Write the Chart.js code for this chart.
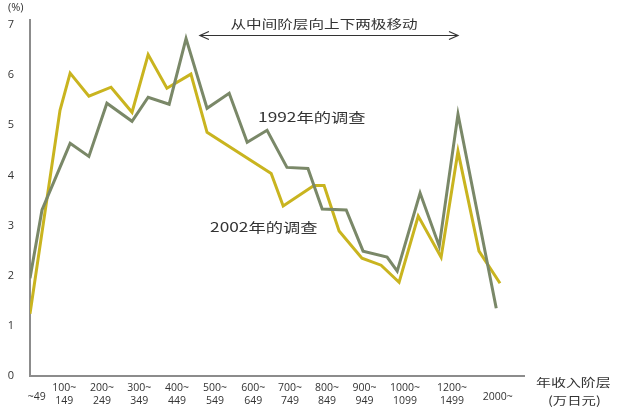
<!DOCTYPE html>
<html>
<head>
<meta charset="utf-8">
<script src="https://cdn.jsdelivr.net/npm/chart.js@4.4.1/dist/chart.umd.min.js"></script>
<style>
  html, body { margin: 0; padding: 0; background: #fff; }
</style>
</head>
<body>
<canvas id="myChart" width="618" height="408"></canvas>
<script>
// 年收入 (万日元), x 轴按收入线性排列, 1000 以上压缩
const x1992 = [0, 32, 107, 157, 205, 272, 315, 371, 416, 472, 531, 579, 632, 685, 741, 779, 843, 888, 952, 979, 1040, 1091, 1141, 1243];
const v1992 = [1.95, 3.31, 4.64, 4.38, 5.44, 5.08, 5.56, 5.42, 6.73, 5.34, 5.64, 4.66, 4.90, 4.16, 4.14, 3.33, 3.31, 2.49, 2.37, 2.09, 3.65, 2.59, 5.22, 1.35];

const x2002 = [0, 80, 107, 157, 216, 272, 315, 365, 429, 472, 643, 675, 757, 784, 824, 885, 936, 984, 1035, 1096, 1141, 1197, 1253];
const v2002 = [1.24, 5.30, 6.04, 5.58, 5.76, 5.26, 6.41, 5.74, 6.02, 4.86, 4.04, 3.39, 3.80, 3.80, 2.89, 2.35, 2.21, 1.87, 3.19, 2.37, 4.48, 2.49, 1.85];

const tickPos = [18, 91, 192, 291, 392, 493, 595, 693, 792, 892, 1000, 1125, 1247];
const tickLabels = [["~49"], ["100~", "149"], ["200~", "249"], ["300~", "349"], ["400~", "449"],
  ["500~", "549"], ["600~", "649"], ["700~", "749"], ["800~", "849"], ["900~", "949"],
  ["1000~", "1099"], ["1200~", "1499"], ["2000~"]];
const yTicks = [0, 1, 2, 3, 4, 5, 6, 7];

const GREEN = "#7a8868";
const YELLOW = "#c9b41f";
const TXT = "#333333";
const AXIS = "#8c8c8c";

// texto estirado horizontalmente como en la imagen original
function stretchText(ctx, text, x, y, align, sx) {
  ctx.save();
  ctx.translate(x, y);
  ctx.scale(sx, 1);
  ctx.textAlign = align;
  ctx.fillText(text, 0, 0);
  ctx.restore();
}

const labelsPlugin = {
  id: "labelsPlugin",
  afterDraw(chart) {
    const ctx = chart.ctx;
    const xs = chart.scales.x;
    const ys = chart.scales.y;
    const bottom = chart.chartArea.bottom;
    ctx.save();
    ctx.fillStyle = TXT;
    ctx.textBaseline = "middle";

    // etiquetas del eje x
    ctx.font = "10.5px 'Open Sans', 'Noto Sans', sans-serif";
    ctx.textAlign = "center";
    tickLabels.forEach((lines, i) => {
      const px = xs.getPixelForValue(tickPos[i]);
      if (lines.length === 2) {
        ctx.fillText(lines[0], px, bottom + 12.5);
        ctx.fillText(lines[1], px, bottom + 25.5);
      } else {
        ctx.fillText(lines[0], px, bottom + 21);
      }
    });

    // titulos de ejes
    ctx.font = "11px 'Open Sans', 'Noto Sans CJK SC', sans-serif";
    ctx.textAlign = "left";
    ctx.fillText("(%)", 8, 8);
    ctx.font = "11.5px 'Noto Sans CJK SC', sans-serif";
    stretchText(ctx, "年收入阶层", 536, bottom + 7, "left", 1.3);
    stretchText(ctx, "(万日元)", 548, bottom + 25, "left", 1.25);

    // anotaciones de las series
    ctx.font = "13px 'Noto Sans CJK SC', sans-serif";
    stretchText(ctx, "1992年的调查", xs.getPixelForValue(608), ys.getPixelForValue(5.16), "left", 1.33);
    stretchText(ctx, "2002年的调查", xs.getPixelForValue(480), ys.getPixelForValue(2.97), "left", 1.33);

    // flecha doble
    const ax1 = xs.getPixelForValue(453);
    const ax2 = xs.getPixelForValue(1141);
    const ay = Math.round(ys.getPixelForValue(6.8)) + 0.5;
    ctx.strokeStyle = TXT;
    ctx.lineWidth = 1.2;
    ctx.beginPath();
    ctx.moveTo(ax1, ay);
    ctx.lineTo(ax2, ay);
    ctx.moveTo(ax1 + 9, ay - 4);
    ctx.lineTo(ax1, ay);
    ctx.lineTo(ax1 + 9, ay + 4);
    ctx.moveTo(ax2 - 9, ay - 4);
    ctx.lineTo(ax2, ay);
    ctx.lineTo(ax2 - 9, ay + 4);
    ctx.stroke();
    ctx.font = "12px 'Noto Sans CJK SC', sans-serif";
    stretchText(ctx, "从中间阶层向上下两极移动", xs.getPixelForValue(784), ay - 11, "center", 1.3);
    ctx.restore();
  },
};

const ctx = document.getElementById("myChart").getContext("2d");
const myChart = new Chart(ctx, {
  type: "line",
  data: {
    datasets: [
      {
        label: "1992年的调查",
        data: x1992.map((x, i) => ({ x: x, y: v1992[i] })),
        borderColor: GREEN,
        borderWidth: 3,
        pointRadius: 0,
        tension: 0,
      },
      {
        label: "2002年的调查",
        data: x2002.map((x, i) => ({ x: x, y: v2002[i] })),
        borderColor: YELLOW,
        borderWidth: 3,
        pointRadius: 0,
        tension: 0,
      },
    ],
  },
  options: {
    responsive: false,
    animation: false,
    layout: { padding: { top: 20, right: 94, left: 0, bottom: 0 } },
    plugins: {
      legend: { display: false },
      tooltip: { enabled: false },
    },
    scales: {
      x: {
        type: "linear",
        min: 0,
        max: 1317,
        grid: { display: false },
        border: { color: AXIS, width: 2 },
        ticks: { display: false },
        afterFit: (s) => { s.height = 32; },
      },
      y: {
        min: 0,
        max: 7.1,
        grid: { display: false },
        border: { color: AXIS, width: 2 },
        afterBuildTicks: (s) => { s.ticks = yTicks.map((v) => ({ value: v })); },
        ticks: {
          color: TXT,
          padding: 8,
          font: { family: "'Open Sans', 'Noto Sans', sans-serif", size: 11 },
        },
        afterFit: (s) => { s.width = 30; },
      },
    },
  },
  plugins: [labelsPlugin],
});
</script>
</body>
</html>
